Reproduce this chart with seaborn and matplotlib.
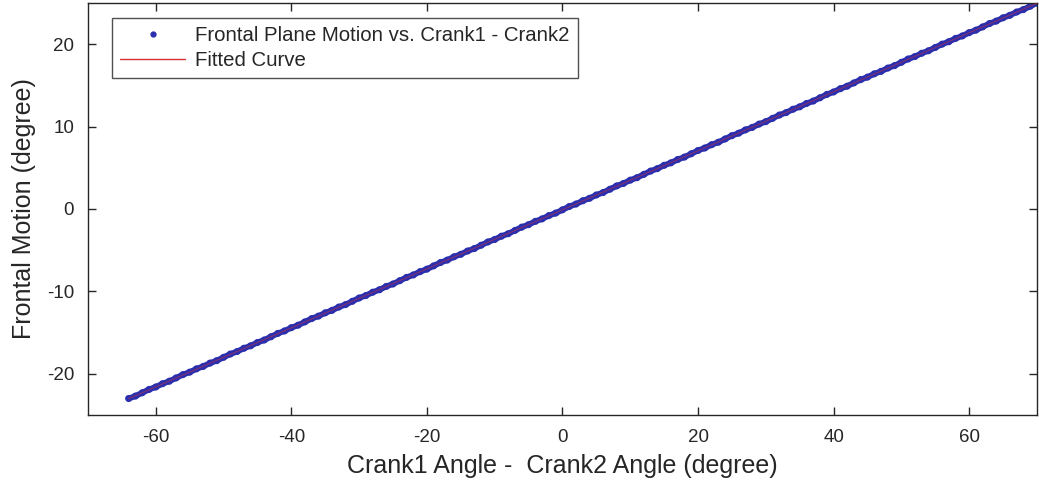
import numpy as np
import pandas as pd
import matplotlib
matplotlib.use("Agg")
import matplotlib.pyplot as plt
from matplotlib.lines import Line2D
import seaborn as sns

# Data (Crank1 - Crank2 angle vs frontal motion)
crank_diff = [-64, -63, -62, -61, -60, -59, -58, -57, -56, -55, -54, -53, -52, -51, -50,
              -49, -48, -47, -46, -45, -44, -43, -42, -41, -40, -39, -38, -37, -36, -35,
              -34, -33, -32, -31, -30, -29, -28, -27, -26, -25, -24, -23, -22, -21, -20,
              -19, -18, -17, -16, -15, -14, -13, -12, -11, -10, -9, -8, -7, -6, -5,
              -4, -3, -2, -1, 0, 1, 2, 3, 4, 5, 6, 7, 8, 9, 10,
              11, 12, 13, 14, 15, 16, 17, 18, 19, 20, 21, 22, 23, 24, 25,
              26, 27, 28, 29, 30, 31, 32, 33, 34, 35, 36, 37, 38, 39, 40,
              41, 42, 43, 44, 45, 46, 47, 48, 49, 50, 51, 52, 53, 54, 55,
              56, 57, 58, 59, 60, 61, 62, 63, 64, 65, 66, 67, 68, 69, 70]
frontal = [-23.0, -22.7, -22.3, -21.9, -21.6, -21.2, -20.9, -20.5, -20.1, -19.8, -19.4, -19.1, -18.7, -18.4, -18.0,
           -17.6, -17.3, -16.9, -16.6, -16.2, -15.9, -15.5, -15.1, -14.8, -14.4, -14.1, -13.7, -13.3, -13.0, -12.6,
           -12.3, -11.9, -11.6, -11.2, -10.8, -10.5, -10.1, -9.8, -9.4, -9.1, -8.7, -8.3, -8.0, -7.6, -7.3,
           -6.9, -6.5, -6.2, -5.8, -5.5, -5.1, -4.8, -4.4, -4.0, -3.7, -3.3, -3.0, -2.6, -2.2, -1.9,
           -1.5, -1.2, -0.8, -0.5, -0.1, 0.3, 0.6, 1.0, 1.3, 1.7, 2.0, 2.4, 2.8, 3.1, 3.5,
           3.8, 4.2, 4.6, 4.9, 5.3, 5.6, 6.0, 6.3, 6.7, 7.1, 7.4, 7.8, 8.1, 8.5, 8.9,
           9.2, 9.6, 9.9, 10.3, 10.6, 11.0, 11.4, 11.7, 12.1, 12.4, 12.8, 13.1, 13.5, 13.9, 14.2,
           14.6, 14.9, 15.3, 15.7, 16.0, 16.4, 16.7, 17.1, 17.4, 17.8, 18.2, 18.5, 18.9, 19.2, 19.6,
           20.0, 20.3, 20.7, 21.0, 21.4, 21.7, 22.1, 22.5, 22.8, 23.2, 23.5, 23.9, 24.2, 24.6, 25.0]

x_ticks = [-60, -40, -20, 0, 20, 40, 60]
y_ticks = [-20, -10, 0, 10, 20]
x_label = "Crank1 Angle -  Crank2 Angle (degree)"
y_label = "Frontal Motion (degree)"
scatter_name = "Frontal Plane Motion vs. Crank1 - Crank2"
fit_name = "Fitted Curve"

df = pd.DataFrame({"x": crank_diff, "y": frontal})
coef = np.polyfit(df["x"], df["y"], 1)
fit_df = pd.DataFrame({"x": [min(crank_diff), max(crank_diff)]})
fit_df["y"] = np.polyval(coef, fit_df["x"])

sns.set_theme(style="white")
plt.rcParams["font.family"] = ["Liberation Sans", "DejaVu Sans"]
plt.rcParams["axes.unicode_minus"] = False

BLUE = "#2b2fae"
RED = "#d63030"
TXT = "#262626"

fig = plt.figure(figsize=(10.39, 4.95), dpi=100)
ax = fig.add_axes([0.0847, 0.1616, 0.9133, 0.8324])

# dense data cloud: points joined into a band plus the individual dots
sns.lineplot(data=df, x="x", y="y", ax=ax, color=BLUE, linewidth=4.2,
             zorder=2, legend=False, solid_capstyle="round")
sns.scatterplot(data=df, x="x", y="y", ax=ax, color=BLUE, s=26,
                edgecolor="none", linewidth=0, zorder=2, legend=False)
sns.lineplot(data=fit_df, x="x", y="y", ax=ax, color=RED, linewidth=0.8,
             alpha=0.5, zorder=3, legend=False)

ax.set_xlim(-70, 70)
ax.set_ylim(-25, 25)
ax.set_xticks(x_ticks)
ax.set_yticks(y_ticks)
ax.set_xlabel(x_label, fontsize=18, color=TXT, labelpad=6)
ax.set_ylabel(y_label, fontsize=18, color=TXT, labelpad=8)
ax.tick_params(direction="in", length=6, width=1, colors=TXT, labelsize=13.5,
               top=True, right=True, bottom=True, left=True, pad=10)
ax.tick_params(axis="x", labeltop=False)
ax.tick_params(axis="y", labelright=False)
for sp in ax.spines.values():
    sp.set_visible(True)
    sp.set_color(TXT)
    sp.set_linewidth(1.0)

h = [Line2D([], [], marker="o", linestyle="none", color=BLUE, markersize=3.5),
     Line2D([], [], color=RED, linewidth=1.0)]
leg = ax.legend(h, [scatter_name, fit_name], loc="upper left",
                bbox_to_anchor=(0.025, 0.964), fontsize=14.7, frameon=True,
                fancybox=False, edgecolor=TXT, borderaxespad=0,
                handlelength=3.2, handletextpad=0.5, borderpad=0.4,
                labelspacing=0.3)
leg.get_frame().set_linewidth(1.0)
for t in leg.get_texts():
    t.set_color(TXT)

fig.savefig("out.png", dpi=100)
